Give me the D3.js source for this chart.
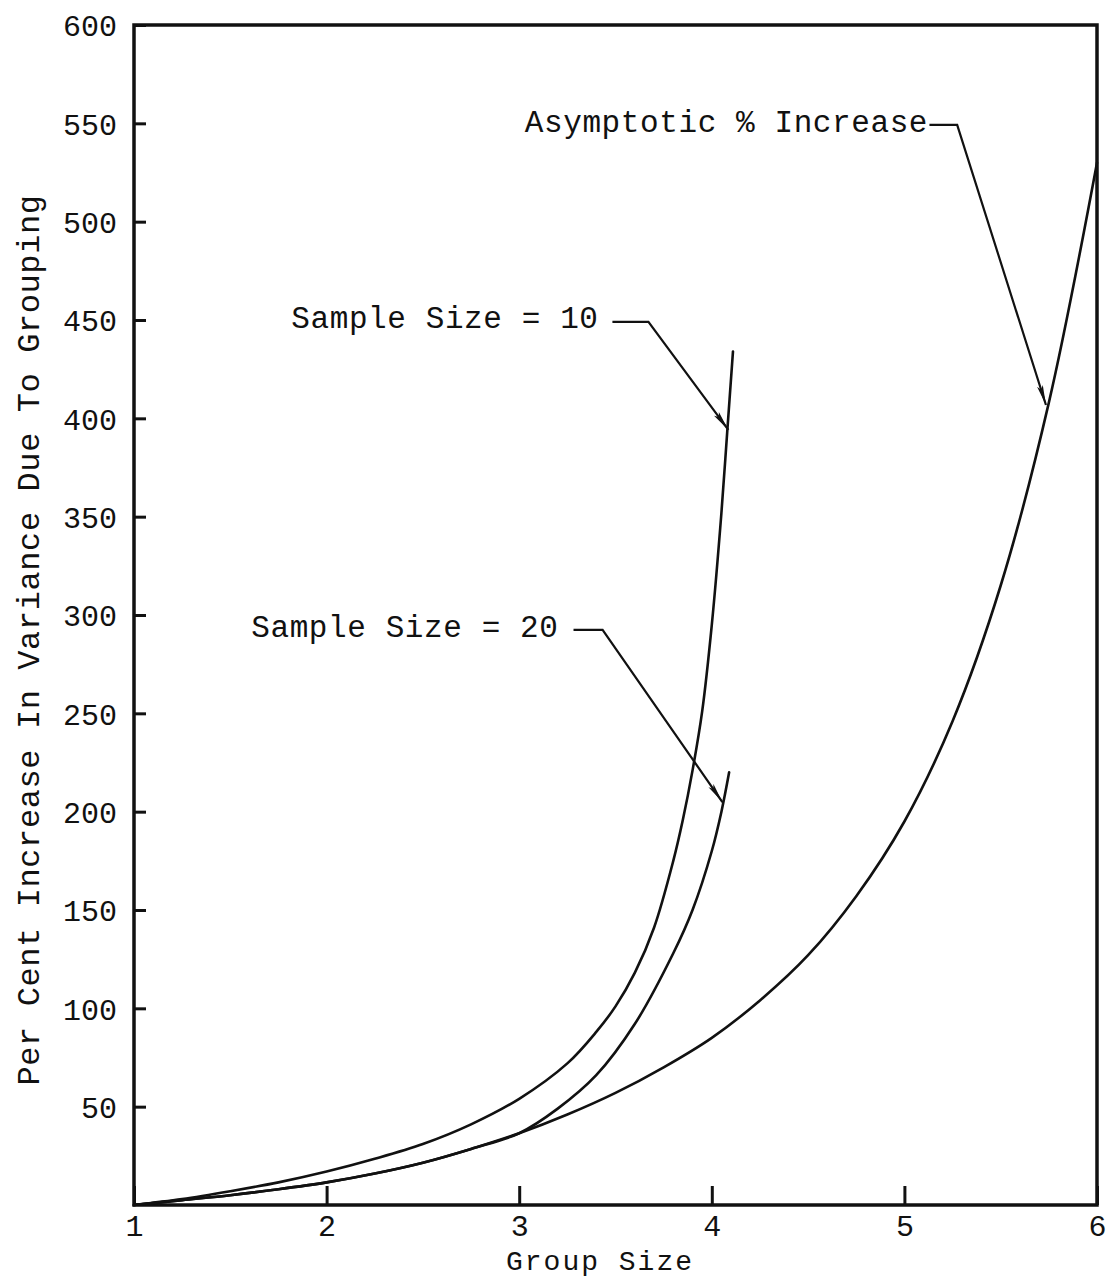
<!DOCTYPE html>
<html><head><meta charset="utf-8">
<script src="https://cdn.jsdelivr.net/npm/d3@7"></script>
<style>
body{margin:0;background:#fff}
svg{display:block}
text{font-family:"Liberation Mono","DejaVu Sans Mono",monospace;fill:#111}
</style>
</head><body>
<svg id="chart" width="1112" height="1279"></svg>
<script>
// ---- data ----
const xTickValues = [1, 2, 3, 4, 5, 6];
const yTickValues = [50, 100, 150, 200, 250, 300, 350, 400, 450, 500, 550, 600];
const xTitle = "Group Size";
const yTitle = "Per Cent Increase In Variance Due To Grouping";

// Asymptotic % increase
const asymX = [1.0, 1.25, 1.5, 1.75, 2.0, 2.25, 2.5, 2.75, 3.0, 3.25, 3.5, 3.75, 4.0, 4.25, 4.5, 4.75, 5.0, 5.25, 5.5, 5.75, 6.0];
const asymY = [0, 2.5, 5, 8, 11.5, 16, 21.5, 28.5, 36.5, 46, 57, 70, 85, 104, 127, 157, 195, 246, 315, 408, 530];
// Sample size = 10
const n10X = [1.0, 1.25, 1.5, 1.75, 2.0, 2.25, 2.5, 2.75, 3.0, 3.25, 3.4, 3.5, 3.6, 3.7, 3.8, 3.85, 3.9, 3.95, 4.0, 4.05, 4.08, 4.11];
const n10Y = [0, 3, 7, 11.5, 17, 23.5, 31, 41, 54, 72, 88, 101, 118, 141, 175, 196, 221, 251, 295, 352, 393, 434];
// Sample size = 20
const n20X = [1.0, 1.25, 1.5, 1.75, 2.0, 2.25, 2.5, 2.75, 3.0, 3.2, 3.4, 3.6, 3.8, 3.9, 4.0, 4.05, 4.09];
const n20Y = [0, 2.5, 5, 8, 11.5, 16, 21.5, 28.5, 36.5, 49, 66, 92, 128, 150, 180, 200, 220];

// annotations (data units)
const annText = ["Sample Size = 10", "Sample Size = 20", "Asymptotic % Increase"];
const annTextX = [3.412, 3.204, 5.123];
const annTextY = [445.9, 288.8, 545.6];
const annStartX = [3.484, 3.282, 5.13];
const annElbowX = [3.671, 3.433, 5.274];
const annLeaderY = [449.0, 292.4, 549.2];
const annTipX = [4.086, 4.055, 5.735];
const annTipY = [394.1, 204.9, 406.8];

// ---- drawing ----
const svg = d3.select("#chart");
const x = d3.scaleLinear().domain([1, 6]).range([134, 1097]);
const y = d3.scaleLinear().domain([0, 600]).range([1205, 25]);

svg.append("rect").attr("width", 1112).attr("height", 1279).attr("fill", "#fff");

// arrow marker
const defs = svg.append("defs");
defs.append("marker")
  .attr("id", "arr").attr("viewBox", "0 0 20 8")
  .attr("refX", 20).attr("refY", 4)
  .attr("markerWidth", 20).attr("markerHeight", 8)
  .attr("markerUnits", "userSpaceOnUse")
  .attr("orient", "auto")
  .append("path").attr("d", "M0,1 L20,4 L0,7 L4,4 Z").attr("fill", "#111");

// Y axis
const yAxis = d3.axisLeft(y).tickValues(yTickValues).tickSize(-12).tickPadding(17).tickFormat(d3.format("d"));
const gy = svg.append("g").attr("transform", `translate(${x(1)},0)`).call(yAxis);
gy.select(".domain").remove();
gy.selectAll(".tick line").attr("stroke", "#111").attr("stroke-width", 3);
gy.selectAll(".tick text").attr("font-size", 30).attr("fill", "#111").attr("dy", "0.36em");

// X axis
const xAxis = d3.axisBottom(x).tickValues(xTickValues).tickSize(-19).tickPadding(10).tickFormat(d3.format("d"));
const gx = svg.append("g").attr("transform", `translate(0,${y(0)})`).call(xAxis);
gx.select(".domain").remove();
gx.selectAll(".tick line").attr("stroke", "#111").attr("stroke-width", 3);
gx.selectAll(".tick text").attr("font-size", 30).attr("fill", "#111");

// frame
svg.append("rect")
  .attr("x", x(1)).attr("y", y(600))
  .attr("width", x(6) - x(1)).attr("height", y(0) - y(600))
  .attr("fill", "none").attr("stroke", "#111").attr("stroke-width", 3.5);

// curves
const line = d3.line().x(d => x(d[0])).y(d => y(d[1])).curve(d3.curveCatmullRom.alpha(0.5));
const series = [
  d3.zip(asymX, asymY),
  d3.zip(n20X, n20Y),
  d3.zip(n10X, n10Y)
];
svg.append("g").selectAll("path").data(series).join("path")
  .attr("d", line)
  .attr("fill", "none").attr("stroke", "#111").attr("stroke-width", 2.6)
  .attr("stroke-linejoin", "round").attr("stroke-linecap", "round");

// annotations
const ann = annText.map((t, i) => ({
  t, tx: annTextX[i], ty: annTextY[i],
  pts: [[annStartX[i], annLeaderY[i]], [annElbowX[i], annLeaderY[i]], [annTipX[i], annTipY[i]]]
}));
const ga = svg.append("g");
ga.selectAll("text").data(ann).join("text")
  .attr("x", d => x(d.tx)).attr("y", d => y(d.ty))
  .attr("text-anchor", "end").attr("font-size", 31).attr("letter-spacing", 0.6)
  .text(d => d.t);
const lineA = d3.line().x(d => x(d[0])).y(d => y(d[1]));
ga.selectAll("path").data(ann).join("path")
  .attr("d", d => lineA(d.pts))
  .attr("fill", "none").attr("stroke", "#111").attr("stroke-width", 2.2)
  .attr("marker-end", "url(#arr)");

// axis titles
svg.append("text")
  .attr("x", 600).attr("y", 1270)
  .attr("text-anchor", "middle").attr("font-size", 28).attr("letter-spacing", 2)
  .text(xTitle);
svg.append("text")
  .attr("transform", `translate(39,${(y(0) + y(600)) / 2 + 25}) rotate(-90)`)
  .attr("text-anchor", "middle").attr("font-size", 32).attr("letter-spacing", 0.6)
  .text(yTitle);
</script>
</body></html>
